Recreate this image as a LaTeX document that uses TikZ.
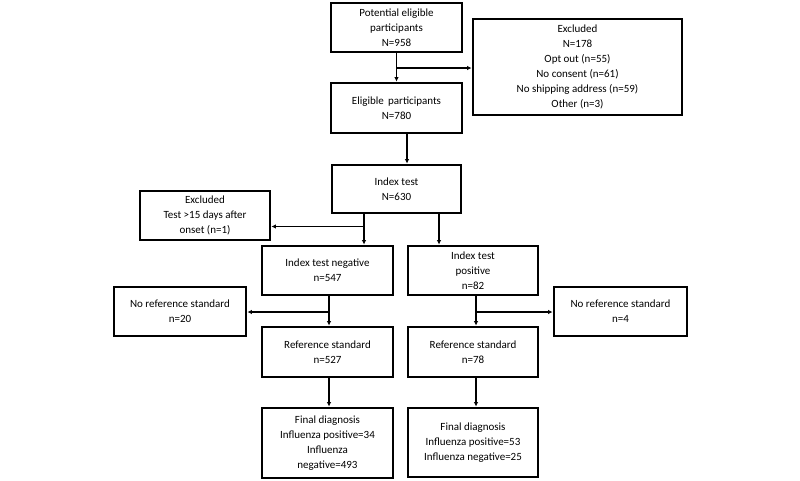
\documentclass[tikz,border=0pt]{standalone}
\usepackage{fontspec}
\setmainfont{Carlito}
\usetikzlibrary{arrows.meta}
\begin{document}
\begin{tikzpicture}[x=1pt,y=-1pt,
    box/.style={draw,line width=2.8pt,align=center,inner sep=0pt,
      font=\fontsize{11}{15}\selectfont},
    arr/.style={line width=1.7pt,-{Latex[length=4.5pt,width=4.5pt]}}]
      \useasboundingbox (0,0) rectangle (800,480);
      % top part
      \node[box,minimum width=131pt,minimum height=49pt](pot) at (396.5,27.5)
        {Potential eligible\\participants\\N=958};
      \node[box,minimum width=209pt,minimum height=96pt](exa) at (577.5,67)
        {Excluded\\N=178\\Opt out (n=55)\\No consent (n=61)\\No shipping address (n=59)\\Other (n=3)};
      \node[box,minimum width=131pt,minimum height=50pt](elig) at (396.5,108)
        {Eligible\, participants\\N=780};
      \node[box,minimum width=129pt,minimum height=48pt](idx) at (396.5,189)
        {Index test\\N=630};
      \node[box,minimum width=130pt,minimum height=49pt](exb) at (205,215.5)
        {Excluded\\Test >15 days after\\onset (n=1)};
      % index test results
      \node[box,minimum width=131pt,minimum height=49pt](neg) at (327.5,270.5)
        {Index test negative\\n=547};
      \node[box,minimum width=130pt,minimum height=49pt](pos) at (473,270.5)
        {Index test\\positive\\n=82};
      \node[box,minimum width=132pt,minimum height=49pt](nra) at (180,311.5)
        {No reference standard\\n=20};
      \node[box,minimum width=133pt,minimum height=49pt](nrb) at (620.5,311.5)
        {No reference standard\\n=4};
      \node[box,minimum width=131pt,minimum height=50pt](rsa) at (327.5,352)
        {Reference standard\\n=527};
      \node[box,minimum width=130pt,minimum height=50pt](rsb) at (473,352)
        {Reference standard\\n=78};
      \node[box,minimum width=131pt,minimum height=70pt](fda) at (327.5,443)
        {Final diagnosis\\Influenza positive=34\\Influenza\\negative=493};
      \node[box,minimum width=130pt,minimum height=69pt](fdb) at (473,442.5)
        {Final diagnosis\\Influenza positive=53\\Influenza negative=25};
      % branch points
      \coordinate (ja) at (396.5,68);
      \coordinate (jb) at (364,226.5);
      \coordinate (jc) at (329,312);
      \coordinate (jd) at (476,312);
      % connectors
      \draw[arr] (pot) -- (elig);
      \draw[arr] (ja) -- (ja -| exa.west);
      \draw[arr] ([xshift=10.5pt]elig.south) -- ([xshift=10.5pt]idx.north);
      \draw[arr] (idx.south -| jb) -- (neg.north -| jb);
      \draw[arr] (jb) -- (jb -| exb.east);
      \draw[arr] ([xshift=42.5pt]idx.south) -- ([xshift=42.5pt]idx.south |- pos.north);
      \draw[arr] (neg.south -| jc) -- (rsa.north -| jc);
      \draw[arr] (jc) -- (jc -| nra.east);
      \draw[arr] (pos.south -| jd) -- (rsb.north -| jd);
      \draw[arr] (jd) -- (jd -| nrb.west);
      \draw[arr] (rsa.south -| jc) -- (fda.north -| jc);
      \draw[arr] (rsb.south -| jd) -- (fdb.north -| jd);
\end{tikzpicture}
\end{document}
